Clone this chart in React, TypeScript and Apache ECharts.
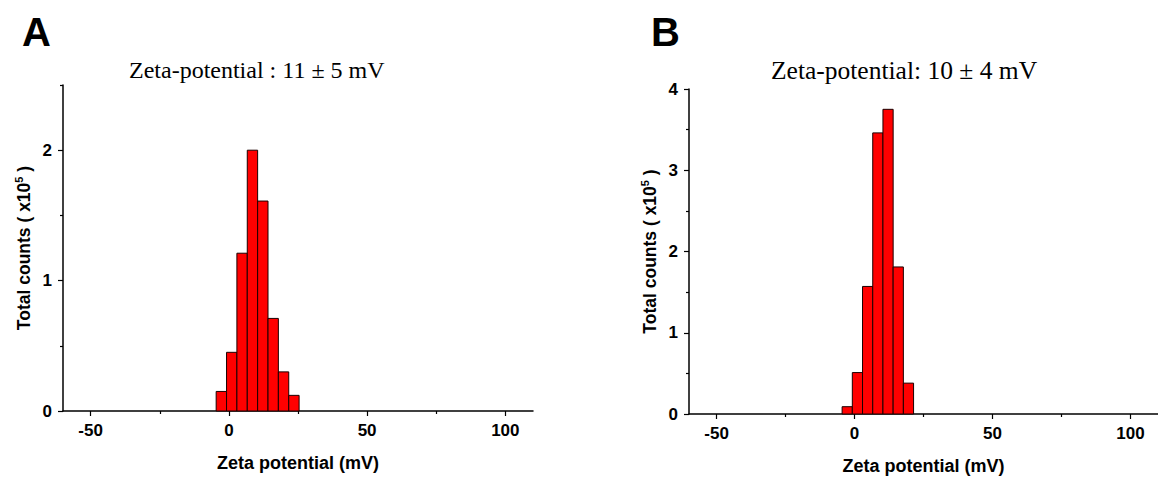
import React, { useEffect, useRef } from "react";
import * as echarts from "echarts";

// Panel A histogram (bin edges in mV, counts in 1e5)
const binEdgesA = [-4.6, -0.85, 2.9, 6.65, 10.4, 14.15, 17.9, 21.65, 25.4];
const countsA = [0.15, 0.45, 1.21, 2.0, 1.61, 0.71, 0.3, 0.12];
// Panel B histogram
const binEdgesB = [-4.5, -0.8, 2.9, 6.6, 10.3, 14.0, 17.7, 21.4];
const countsB = [0.09, 0.51, 1.57, 3.46, 3.75, 1.81, 0.38];

const xMajorTicks = [-50, 0, 50, 100];
const xMinorTicks = [-25, 25, 75];
const yMajorTicksA = [0, 1, 2];
const yMinorTicksA = [0.5, 1.5, 2.5];
const yMajorTicksB = [0, 1, 2, 3, 4];
const yMinorTicksB = [0.5, 1.5, 2.5, 3.5];

const titleA = "Zeta-potential : 11 ± 5 mV";
const titleB = "Zeta-potential: 10 ± 4 mV";
const xName = "Zeta potential (mV)";

const buildBins = (edges: number[], counts: number[]) =>
  counts.map((c, i) => [edges[i], edges[i + 1], c]);

const SANS = "Liberation Sans, Arial, sans-serif";
const SERIF = "Liberation Serif, Times New Roman, serif";

export default function App() {
  const ref = useRef<HTMLDivElement>(null);
  useEffect(() => {
    if (!ref.current) return;
    const chart = echarts.init(ref.current, null, { renderer: "svg" });

    const axisLine = { show: true, onZero: false, lineStyle: { color: "#000", width: 1.5 } };
    const labelStyle = { color: "#000", fontFamily: SANS, fontWeight: "bold" as const, fontSize: 17 };

    const majorX = (gridIndex: number) => ({
      type: "value",
      gridIndex,
      position: "bottom",
      min: -60,
      max: 110,
      axisLine,
      splitLine: { show: false },
      axisTick: { show: true, length: 5, lineStyle: { color: "#000", width: 1.2 }, customValues: xMajorTicks },
      axisLabel: { ...labelStyle, margin: 11, customValues: xMajorTicks },
      name: xName,
      nameLocation: "middle",
      nameGap: 43,
      nameTextStyle: { ...labelStyle, fontSize: 18 },
    });
    const minorX = (gridIndex: number) => ({
      type: "value",
      gridIndex,
      position: "bottom",
      offset: 0,
      min: -60,
      max: 110,
      axisLine: { show: false, onZero: false },
      splitLine: { show: false },
      axisTick: { show: true, length: 3, lineStyle: { color: "#000", width: 1.2 }, customValues: xMinorTicks },
      axisLabel: { show: false },
    });
    const yName = "{a|Total counts ( x10}{s|5}{a| )}";
    const majorY = (gridIndex: number, max: number, ticks: number[]) => ({
      type: "value",
      gridIndex,
      position: "left",
      min: 0,
      max,
      axisLine,
      splitLine: { show: false },
      axisTick: { show: true, length: 5, lineStyle: { color: "#000", width: 1.2 }, customValues: ticks },
      axisLabel: { ...labelStyle, margin: 11, customValues: ticks },
      name: yName,
      nameLocation: "middle",
      nameGap: 28,
      nameTextStyle: {
        rich: {
          a: { ...labelStyle, fontSize: 17.5, lineHeight: 22 },
          s: { ...labelStyle, fontSize: 11, lineHeight: 22, verticalAlign: "top", padding: [0, 0, 6, 0] },
        },
      },
    });
    const minorY = (gridIndex: number, max: number, ticks: number[]) => ({
      type: "value",
      gridIndex,
      position: "left",
      offset: 0,
      min: 0,
      max,
      axisLine: { show: false, onZero: false },
      splitLine: { show: false },
      axisTick: { show: true, length: 3, lineStyle: { color: "#000", width: 1.2 }, customValues: ticks },
      axisLabel: { show: false },
    });

    const renderItem = (params: any, api: any) => {
      const x0 = api.value(0);
      const x1 = api.value(1);
      const y = api.value(2);
      const p0 = api.coord([x0, 0]);
      const p1 = api.coord([x1, y]);
      return {
        type: "rect",
        shape: { x: p0[0], y: p1[1], width: p1[0] - p0[0], height: p0[1] - p1[1] },
        style: { fill: "#ff0000", stroke: "#1a0000", lineWidth: 1 },
      };
    };

    chart.setOption({
      animation: false,
      backgroundColor: "#fff",
      grid: [
        { left: 63, top: 85, width: 470, height: 326 },
        { left: 689, top: 89, width: 471, height: 326 },
      ],
      xAxis: [majorX(0), minorX(0), majorX(1), minorX(1)],
      yAxis: [
        majorY(0, 2.5, yMajorTicksA),
        minorY(0, 2.5, yMinorTicksA),
        majorY(1, 4, yMajorTicksB),
        minorY(1, 4, yMinorTicksB),
      ],
      series: [
        {
          type: "custom",
          xAxisIndex: 0,
          yAxisIndex: 0,
          renderItem,
          encode: { x: [0, 1], y: 2 },
          data: buildBins(binEdgesA, countsA),
        },
        {
          type: "custom",
          xAxisIndex: 2,
          yAxisIndex: 2,
          renderItem,
          encode: { x: [0, 1], y: 2 },
          data: buildBins(binEdgesB, countsB),
        },
      ],
      graphic: [
        { type: "text", left: 22, top: 12, style: { text: "A", font: `bold 40px ${SANS}`, fill: "#000" } },
        { type: "text", left: 651, top: 12, style: { text: "B", font: `bold 40px ${SANS}`, fill: "#000" } },
        { type: "text", left: 129, top: 58, style: { text: titleA, font: `24px ${SERIF}`, fill: "#000" } },
        { type: "text", left: 771, top: 57, style: { text: titleB, font: `25.5px ${SERIF}`, fill: "#000" } },
      ],
    });
    return () => chart.dispose();
  }, []);
  return (
    <div
      ref={ref}
      style={{ position: "fixed", left: 0, top: 0, width: 1158, height: 480, background: "#fff" }}
    />
  );
}
